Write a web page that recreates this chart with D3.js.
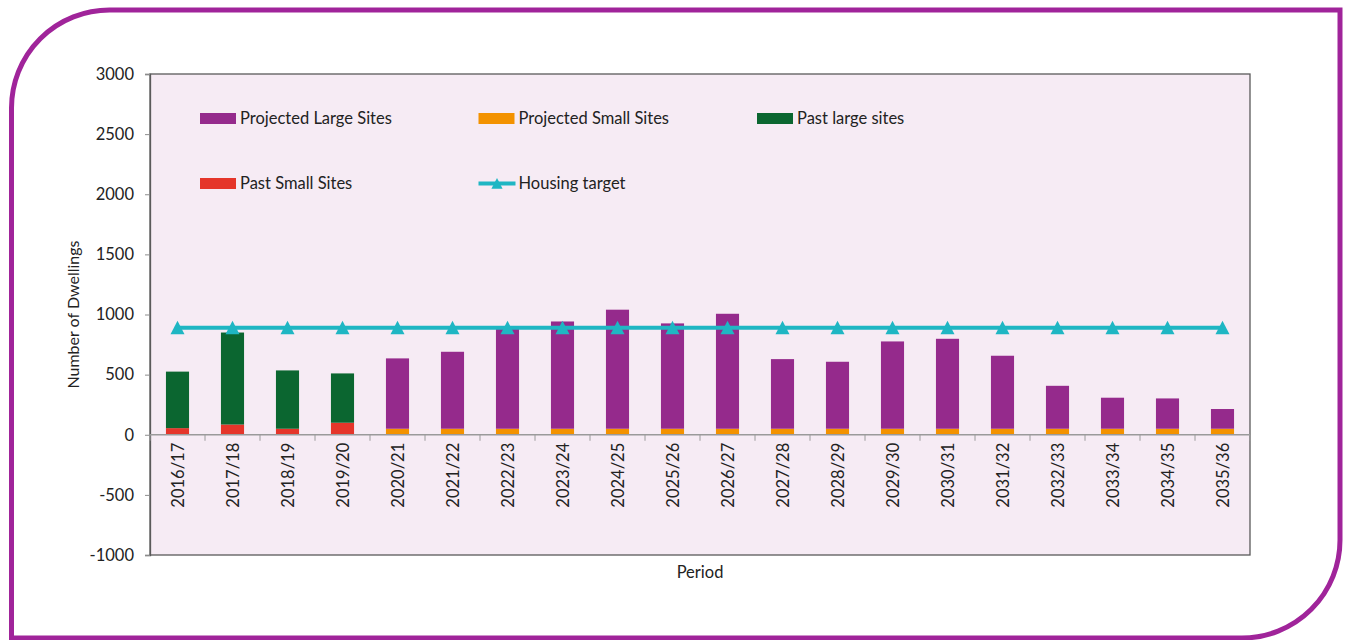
<!DOCTYPE html>
<html>
<head>
<meta charset="utf-8">
<script src="https://cdn.jsdelivr.net/npm/d3@7"></script>
<style>
  body { margin: 0; background: #fff; }
  text { font-family: Lato, "Open Sans", sans-serif; fill: #222; }
</style>
</head>
<body>
<script>
var periods = ["2016/17", "2017/18", "2018/19", "2019/20", "2020/21", "2021/22", "2022/23",
               "2023/24", "2024/25", "2025/26", "2026/27", "2027/28", "2028/29", "2029/30",
               "2030/31", "2031/32", "2032/33", "2033/34", "2034/35", "2035/36"];
var pastSmall      = [55, 85, 50, 100, 0, 0, 0, 0, 0, 0, 0, 0, 0, 0, 0, 0, 0, 0, 0, 0];
var pastLarge      = [470, 765, 485, 410, 0, 0, 0, 0, 0, 0, 0, 0, 0, 0, 0, 0, 0, 0, 0, 0];
var projSmall      = [0, 0, 0, 0, 50, 50, 50, 50, 50, 50, 50, 50, 50, 50, 50, 50, 50, 50, 50, 50];
var projLarge      = [0, 0, 0, 0, 585, 640, 830, 892, 990, 876, 956, 579, 557, 726, 748, 607, 357, 258, 252, 164];
var housingTarget  = [890, 890, 890, 890, 890, 890, 890, 890, 890, 890, 890, 890, 890, 890, 890, 890, 890, 890, 890, 890];
var yTicks = [-1000, -500, 0, 500, 1000, 1500, 2000, 2500, 3000];

var colors = {
  projLarge: "#952a8c",
  projSmall: "#f39200",
  pastLarge: "#0b6630",
  pastSmall: "#e5352a",
  target: "#1fb6c3"
};

var svg = d3.select("body").append("svg")
    .attr("width", 1348)
    .attr("height", 640);

// purple frame, rounded top-left and bottom-right
svg.append("path")
    .attr("d", "M11.5,640 L11.5,108 A98,98 0 0 1 109.5,10 L1340,10 L1340,540 A98,98 0 0 1 1242,638 L11.5,638")
    .attr("fill", "none")
    .attr("stroke", "#a0249a")
    .attr("stroke-width", 5);

var plotL = 150, plotR = 1250, plotT = 74, plotB = 555;

var x = d3.scaleBand().domain(periods).range([plotL, plotR]).paddingInner(0.58).paddingOuter(0.29);
var y = d3.scaleLinear().domain([-1000, 3000]).range([plotB, plotT]);

svg.append("rect")
    .attr("x", plotL).attr("y", plotT)
    .attr("width", plotR - plotL).attr("height", plotB - plotT)
    .attr("fill", "#f6ebf4")
    .attr("stroke", "#5a5a5a")
    .attr("stroke-width", 1.3);

// y axis
var yAxis = svg.append("g")
    .attr("transform", "translate(" + plotL + ",0)")
    .call(d3.axisLeft(y).tickValues(yTicks).tickSize(5).tickPadding(11)
      .tickFormat(function (d) { return String(d); }));
yAxis.select(".domain").attr("stroke", "#5a5a5a").attr("stroke-width", 1.3);
yAxis.selectAll(".tick line").attr("stroke", "#8c8c8c");
yAxis.selectAll("text").style("font-size", "16.5px").style("font-family", "Lato, sans-serif").attr("fill", "#222");

// stacked bars
var stackData = periods.map(function (p, i) {
  return { period: p, pastSmall: pastSmall[i], pastLarge: pastLarge[i], projSmall: projSmall[i], projLarge: projLarge[i] };
});
var keys = ["pastSmall", "projSmall", "pastLarge", "projLarge"];
var series = d3.stack().keys(keys)(stackData);

svg.append("g").selectAll("g")
  .data(series)
  .enter().append("g")
    .attr("fill", function (d) { return colors[d.key]; })
  .selectAll("rect")
  .data(function (d) { return d; })
  .enter().append("rect")
    .attr("x", function (d) { return x(d.data.period); })
    .attr("y", function (d) { return y(d[1]); })
    .attr("width", x.bandwidth())
    .attr("height", function (d) { return y(d[0]) - y(d[1]); });

// x axis at zero
var band = d3.scaleBand().domain(periods).range([plotL, plotR]);
var xAxis = svg.append("g")
    .attr("transform", "translate(0," + y(0) + ")");
xAxis.append("line")
    .attr("x1", plotL).attr("x2", plotR)
    .attr("stroke", "#9a9a9a").attr("stroke-width", 1.3);
xAxis.selectAll(".xt")
  .data(d3.range(periods.length + 1))
  .enter().append("line")
    .attr("x1", function (i) { return plotL + i * band.step(); })
    .attr("x2", function (i) { return plotL + i * band.step(); })
    .attr("y1", 0).attr("y2", 6)
    .attr("stroke", "#9a9a9a");
xAxis.selectAll(".xl")
  .data(periods)
  .enter().append("text")
    .attr("transform", function (d) { return "translate(" + (band(d) + band.bandwidth() / 2 + 6) + ",8) rotate(-90)"; })
    .attr("text-anchor", "end")
    .style("font-size", "16.5px")
    .text(function (d) { return d; });

// housing target line
var tri = "M0,-7 L7,6.5 L-7,6.5 Z";
var line = d3.line()
    .x(function (d, i) { return band(periods[i]) + band.bandwidth() / 2; })
    .y(function (d) { return y(d); });
svg.append("path")
    .datum(housingTarget)
    .attr("d", line)
    .attr("fill", "none")
    .attr("stroke", colors.target)
    .attr("stroke-width", 4);
svg.append("g").selectAll("path")
  .data(housingTarget)
  .enter().append("path")
    .attr("transform", function (d, i) { return "translate(" + (band(periods[i]) + band.bandwidth() / 2) + "," + y(d) + ")"; })
    .attr("d", tri)
    .attr("fill", colors.target);

// legend
var legendItems = [
  { name: "Projected Large Sites", key: "projLarge", col: 0, row: 0 },
  { name: "Projected Small Sites", key: "projSmall", col: 1, row: 0 },
  { name: "Past large sites", key: "pastLarge", col: 2, row: 0 },
  { name: "Past Small Sites", key: "pastSmall", col: 0, row: 1 },
  { name: "Housing target", key: "target", col: 1, row: 1 }
];
var legend = svg.append("g").selectAll("g")
  .data(legendItems)
  .enter().append("g")
    .attr("transform", function (d) { return "translate(" + (200 + d.col * 278.5) + "," + (118.5 + d.row * 65) + ")"; });
legend.filter(function (d) { return d.key !== "target"; })
  .append("rect")
    .attr("x", 0).attr("y", -5.5).attr("width", 36).attr("height", 11)
    .attr("fill", function (d) { return colors[d.key]; });
var lt = legend.filter(function (d) { return d.key === "target"; });
lt.append("line")
    .attr("x1", 0).attr("x2", 37).attr("y1", 0).attr("y2", 0)
    .attr("stroke", colors.target).attr("stroke-width", 4);
lt.append("path")
    .attr("transform", "translate(18.5,0) scale(0.8)")
    .attr("d", tri)
    .attr("fill", colors.target);
legend.append("text")
    .attr("x", 40).attr("y", 5.5)
    .style("font-size", "16.5px")
    .text(function (d) { return d.name; });

// axis titles
svg.append("text")
    .attr("transform", "translate(79," + ((plotT + plotB) / 2) + ") rotate(-90)")
    .attr("text-anchor", "middle")
    .style("font-size", "16px")
    .text("Number of Dwellings");
svg.append("text")
    .attr("x", (plotL + plotR) / 2).attr("y", 578)
    .attr("text-anchor", "middle")
    .style("font-size", "16.5px")
    .text("Period");
</script>
</body>
</html>
